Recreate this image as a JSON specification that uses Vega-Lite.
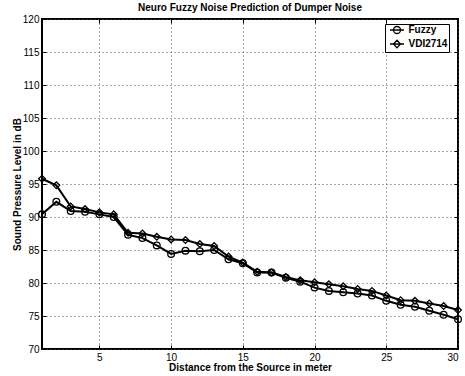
{
  "$schema": "https://vega.github.io/schema/vega-lite/v6.json",
  "width": 416,
  "height": 330,
  "autosize": {"type": "none"},
  "padding": {"left": 42, "top": 19, "right": 7, "bottom": 27},
  "background": "white",
  "title": {"text": "Neuro Fuzzy Noise Prediction of Dumper Noise", "font": "Liberation Sans", "fontSize": 10, "fontWeight": "bold", "color": "black", "offset": 1},
  "data": {"values": [
    {"x": 1, "series": "Fuzzy", "y": 90.4}, {"x": 2, "series": "Fuzzy", "y": 92.3}, {"x": 3, "series": "Fuzzy", "y": 90.9}, {"x": 4, "series": "Fuzzy", "y": 90.8}, {"x": 5, "series": "Fuzzy", "y": 90.4},
    {"x": 6, "series": "Fuzzy", "y": 90.0}, {"x": 7, "series": "Fuzzy", "y": 87.3}, {"x": 8, "series": "Fuzzy", "y": 86.8}, {"x": 9, "series": "Fuzzy", "y": 85.7}, {"x": 10, "series": "Fuzzy", "y": 84.4},
    {"x": 11, "series": "Fuzzy", "y": 84.9}, {"x": 12, "series": "Fuzzy", "y": 84.8}, {"x": 13, "series": "Fuzzy", "y": 85.0}, {"x": 14, "series": "Fuzzy", "y": 83.6}, {"x": 15, "series": "Fuzzy", "y": 83.0},
    {"x": 16, "series": "Fuzzy", "y": 81.6}, {"x": 17, "series": "Fuzzy", "y": 81.6}, {"x": 18, "series": "Fuzzy", "y": 80.8}, {"x": 19, "series": "Fuzzy", "y": 80.2}, {"x": 20, "series": "Fuzzy", "y": 79.3},
    {"x": 21, "series": "Fuzzy", "y": 78.8}, {"x": 22, "series": "Fuzzy", "y": 78.6}, {"x": 23, "series": "Fuzzy", "y": 78.4}, {"x": 24, "series": "Fuzzy", "y": 78.1}, {"x": 25, "series": "Fuzzy", "y": 77.3},
    {"x": 26, "series": "Fuzzy", "y": 76.7}, {"x": 27, "series": "Fuzzy", "y": 76.4}, {"x": 28, "series": "Fuzzy", "y": 75.8}, {"x": 29, "series": "Fuzzy", "y": 75.2}, {"x": 30, "series": "Fuzzy", "y": 74.5},
    {"x": 1, "series": "VDI2714", "y": 95.8}, {"x": 2, "series": "VDI2714", "y": 94.8}, {"x": 3, "series": "VDI2714", "y": 91.6}, {"x": 4, "series": "VDI2714", "y": 91.2}, {"x": 5, "series": "VDI2714", "y": 90.7},
    {"x": 6, "series": "VDI2714", "y": 90.4}, {"x": 7, "series": "VDI2714", "y": 87.6}, {"x": 8, "series": "VDI2714", "y": 87.5}, {"x": 9, "series": "VDI2714", "y": 87.0}, {"x": 10, "series": "VDI2714", "y": 86.6},
    {"x": 11, "series": "VDI2714", "y": 86.5}, {"x": 12, "series": "VDI2714", "y": 85.9}, {"x": 13, "series": "VDI2714", "y": 85.6}, {"x": 14, "series": "VDI2714", "y": 84.0}, {"x": 15, "series": "VDI2714", "y": 83.1},
    {"x": 16, "series": "VDI2714", "y": 81.7}, {"x": 17, "series": "VDI2714", "y": 81.6}, {"x": 18, "series": "VDI2714", "y": 80.9}, {"x": 19, "series": "VDI2714", "y": 80.4}, {"x": 20, "series": "VDI2714", "y": 80.1},
    {"x": 21, "series": "VDI2714", "y": 79.8}, {"x": 22, "series": "VDI2714", "y": 79.5}, {"x": 23, "series": "VDI2714", "y": 79.1}, {"x": 24, "series": "VDI2714", "y": 78.8}, {"x": 25, "series": "VDI2714", "y": 78.1},
    {"x": 26, "series": "VDI2714", "y": 77.4}, {"x": 27, "series": "VDI2714", "y": 77.3}, {"x": 28, "series": "VDI2714", "y": 76.9}, {"x": 29, "series": "VDI2714", "y": 76.5}, {"x": 30, "series": "VDI2714", "y": 75.9}
  ]},
  "layer": [
    {
      "mark": {"type": "line", "strokeWidth": 2, "color": "black"},
      "encoding": {
        "x": {"field": "x", "type": "quantitative", "scale": {"domain": [1, 30], "nice": false, "zero": false},
              "axis": {"title": "Distance from the Source in meter", "values": [5, 10, 15, 20, 25, 30], "grid": true, "titlePadding": 0, "labelPadding": 7}},
        "y": {"field": "y", "type": "quantitative", "scale": {"domain": [70, 120], "nice": false, "zero": false},
              "axis": {"title": "Sound Pressure Level in dB", "values": [70, 75, 80, 85, 90, 95, 100, 105, 110, 115, 120], "grid": true, "titlePadding": 0, "labelPadding": 7}},
        "detail": {"field": "series"}
      }
    },
    {
      "mark": {"type": "point", "filled": false, "size": 45, "strokeWidth": 1.3, "color": "black", "opacity": 1},
      "encoding": {
        "x": {"field": "x", "type": "quantitative", "axis": {"orient": "top", "labels": false, "grid": false, "title": null, "values": [5, 10, 15, 20, 25, 30]}},
        "y": {"field": "y", "type": "quantitative", "axis": {"orient": "right", "labels": false, "grid": false, "title": null, "values": [75, 80, 85, 90, 95, 100, 105, 110, 115]}},
        "shape": {"field": "series", "type": "nominal",
          "scale": {"domain": ["Fuzzy", "VDI2714"], "range": ["circle", "diamond"]},
          "legend": null
        }
      }
    },
    {
      "transform": [{"filter": "false"}],
      "mark": {"type": "point", "filled": false, "size": 49, "strokeWidth": 1.3, "color": "black", "opacity": 1},
      "encoding": {
        "x": {"field": "x", "type": "quantitative", "axis": null},
        "y": {"field": "y", "type": "quantitative", "axis": null},
        "shape": {"field": "series", "type": "nominal",
          "scale": {"domain": ["Fuzzy", "VDI2714"], "range": ["M-2,0L2,0M-1,0A1,1,0,1,0,1,0A1,1,0,1,0,-1,0", "M-2,0L2,0M-1,0L0,-1.1L1,0L0,1.1Z"]},
          "legend": {
            "title": null, "orient": "none", "legendX": 343, "legendY": 5,
            "strokeColor": "black", "fillColor": "white", "padding": 1, "rowPadding": 0,
            "symbolSize": 49, "symbolOffset": 6, "labelOffset": 6.5,
            "symbolStrokeColor": "black", "symbolFillColor": "transparent", "symbolStrokeWidth": 1.3,
            "labelFont": "Liberation Sans", "labelFontSize": 10, "labelFontWeight": "bold", "labelColor": "black",
            "labelExpr": "datum.label + '    '",
            "encode": {
              "legend": {"update": {"strokeWidth": {"value": 2}}}
            }
          }
        }
      }
    }
  ],
  "resolve": {"axis": {"x": "independent", "y": "independent"}, "scale": {"shape": "independent"}},
  "config": {
    "view": {"stroke": "black", "strokeWidth": 2},
    "axis": {
      "domain": false,
      "labelFont": "Liberation Sans", "labelFontSize": 10, "labelColor": "black",
      "titleFont": "Liberation Sans", "titleFontSize": 10, "titleFontWeight": "bold", "titleColor": "black",
      "tickColor": "black", "tickSize": -4, "tickWidth": 1,
      "gridColor": "#555", "gridDash": [1, 3], "gridOpacity": 1, "gridWidth": 1
    }
  }
}
